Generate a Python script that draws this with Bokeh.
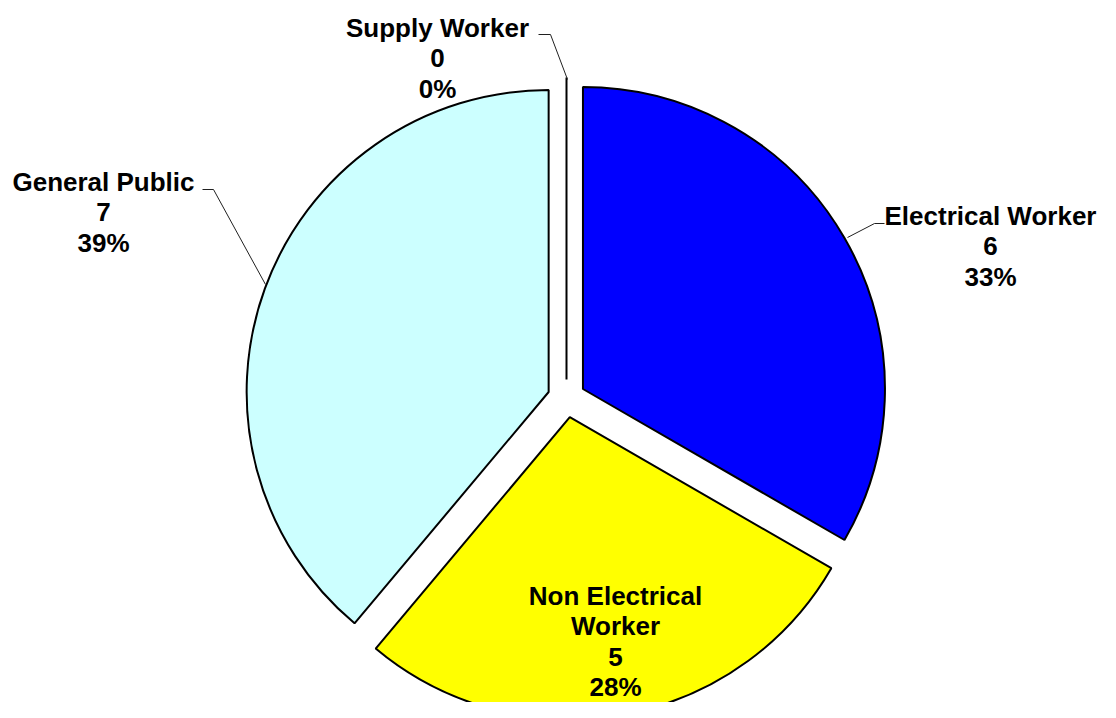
import numpy as np
from bokeh.plotting import figure
from bokeh.models import Range1d, ColumnDataSource
from bokeh.core.properties import value
from bokeh.embed import file_html
from bokeh.resources import INLINE

categories = ["Electrical Worker", "Non Electrical Worker", "General Public", "Supply Worker"]
counts = [6, 5, 7, 0]
colors = ["#0000FF", "#FFFF00", "#CCFFFF", "#FF99CC"]

# label line layout (text) and centres in screen pixels
label_lines = [
    ["Electrical Worker", "6", "33%"],
    ["Non Electrical", "Worker", "5", "28%"],
    ["General Public", "7", "39%"],
    ["Supply Worker", "0", "0%"],
]
label_pos = [(990, 215), (615, 595), (103, 181), (437, 27)]
leaders = [
    [(884, 223), (874, 223), (847, 237)],
    None,
    [(202, 189), (213, 189), (265, 284)],
    [(538, 34), (550, 34), (567, 79)],
]

W, H = 1100, 702
p = figure(width=W, height=H, output_backend="svg", toolbar_location=None,
           x_range=Range1d(0, W), y_range=Range1d(-H, 0),
           min_border=0)
p.axis.visible = False
p.grid.visible = False
p.outline_line_color = None
p.background_fill_color = "white"

cx, cy = 566.0, -398.0
radius = 302.0
explode = 19.0

vals = np.array(counts, dtype=float)
total = vals.sum()
frac = vals / total
cum = np.concatenate([[0], np.cumsum(frac)]) * 2 * np.pi  # clockwise from top
theta0, theta1 = cum[:-1], cum[1:]
mid = (theta0 + theta1) / 2
ox = cx + explode * np.sin(mid)
oy = cy + explode * np.cos(mid)

nz = vals > 0
src = ColumnDataSource(dict(
    x=ox[nz], y=oy[nz],
    start=(np.pi / 2 - theta0)[nz], end=(np.pi / 2 - theta1)[nz],
    color=[c for c, k in zip(colors, nz) if k],
))
p.wedge(x="x", y="y", radius=radius, start_angle="start", end_angle="end",
        direction="clock", fill_color="color", line_color="black", line_width=2,
        source=src)

# zero-valued slices drawn as a single radius line
zx = ox[~nz]; zy = oy[~nz]; zt = theta0[~nz]
if len(zx):
    p.segment(x0=zx, y0=zy, x1=zx + radius * np.sin(zt), y1=zy + radius * np.cos(zt),
              line_color="black", line_width=2)

# leader lines
for ld in leaders:
    if ld:
        p.line([q[0] for q in ld], [-q[1] for q in ld], line_color="#202020", line_width=1)

# labels
fs = 26
lh = 30.5
for lines, (lx, ly) in zip(label_lines, label_pos):
    xs = [lx] * len(lines)
    ys = [-(ly + i * lh) for i in range(len(lines))]
    p.text(x=xs, y=ys, text=lines, text_align="center", text_baseline="middle",
           text_font=value("Liberation Sans"), text_font_style="bold",
           text_font_size=f"{fs}px", text_color="black")

open("out.html", "w").write(file_html(p, INLINE))
